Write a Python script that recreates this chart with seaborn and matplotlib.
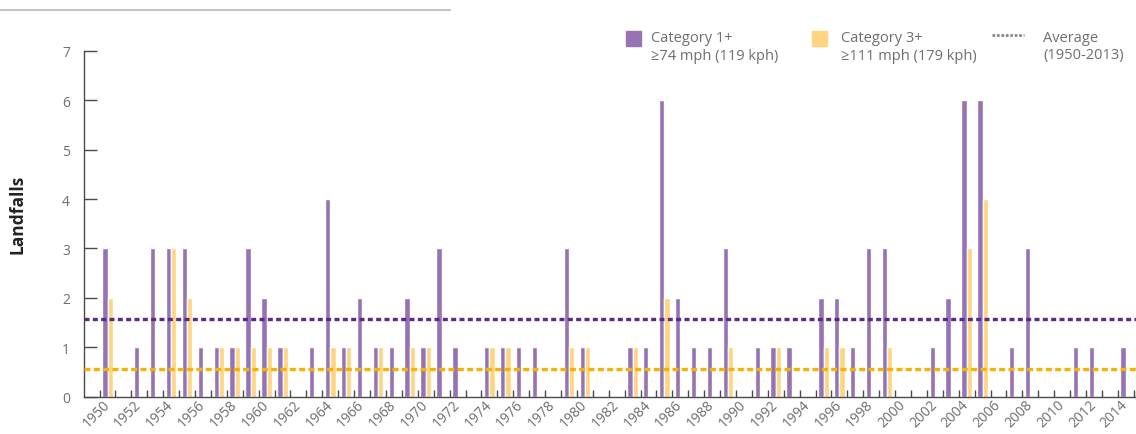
import numpy as np
import pandas as pd
import matplotlib
matplotlib.use("Agg")
import matplotlib.pyplot as plt
from matplotlib.patches import Rectangle
from matplotlib.lines import Line2D
import seaborn as sns

# ---------------- data ----------------
years = list(range(1950, 2015))
cat1_plus = [3, 0, 1, 3, 3, 3, 1, 1, 1, 3,   # 1950-1959
             2, 1, 0, 1, 4, 1, 2, 1, 1, 2,   # 1960-1969
             1, 3, 1, 0, 1, 1, 1, 1, 0, 3,   # 1970-1979
             1, 0, 0, 1, 1, 6, 2, 1, 1, 3,   # 1980-1989
             0, 1, 1, 1, 0, 2, 2, 1, 3, 3,   # 1990-1999
             0, 0, 1, 2, 6, 6, 0, 1, 3, 0,   # 2000-2009
             0, 1, 1, 0, 1]                  # 2010-2014
cat3_plus = [2, 0, 0, 0, 3, 2, 0, 1, 1, 1,
             1, 1, 0, 0, 1, 1, 0, 1, 0, 1,
             1, 0, 0, 0, 1, 1, 0, 0, 0, 1,
             1, 0, 0, 1, 0, 2, 0, 0, 0, 1,
             0, 0, 1, 0, 0, 1, 1, 0, 0, 1,
             0, 0, 0, 0, 3, 4, 0, 0, 0, 0,
             0, 0, 0, 0, 0]
avg_cat1 = 1.57
avg_cat3 = 0.56
series_names = ["Category 1+", "Category 3+"]
tick_years = years[::2]

# ---------------- style ----------------
sns.set_style("white")
plt.rcParams["font.family"] = ["Open Sans", "DejaVu Sans"]

PURPLE = "#9773b3"
YELLOW = "#ffd480"
PURPLE_AVG = "#5b2a86"
YELLOW_AVG = "#f7b100"
GRAY_TXT = "#6e6e6e"
SPINE = "#4a4a4a"

df = pd.DataFrame({
    "year": [str(y) for y in years] * 2,
    "value": cat1_plus + cat3_plus,
    "series": [series_names[0]] * len(years) + [series_names[1]] * len(years),
})

W, H = 1136, 435
fig = plt.figure(figsize=(W / 100, H / 100), dpi=100)
ax = fig.add_axes([84 / W, 1 - 397.5 / H, 1 - 84 / W, (397.5 - 52) / H])

sns.barplot(data=df, x="year", y="value", hue="series",
            order=[str(y) for y in years], hue_order=series_names,
            palette=[PURPLE, YELLOW], width=0.67, gap=0, errorbar=None,
            legend=False, saturation=1, ax=ax)

ax.axhline(avg_cat1, color=PURPLE_AVG, lw=2.4, linestyle=(0, (1.5, 1.0)), zorder=5)
ax.axhline(avg_cat3, color=YELLOW_AVG, lw=2.4, linestyle=(0, (1.8, 1.0)), zorder=5)

ax.set_xlim(-1.477, 64.64)
ax.set_ylim(0, 7)
ax.set_yticks(range(0, 8))
ax.set_xticks([years.index(y) for y in tick_years])
ax.set_xticklabels([str(y) for y in tick_years], rotation=45, ha="right",
                   va="center", rotation_mode="anchor")
ax.set_xticks(np.arange(len(years) + 1) - 0.5, minor=True)
ax.tick_params(axis="x", which="major", length=0, pad=4, labelsize=10,
               labelcolor=GRAY_TXT)
ax.tick_params(axis="x", which="minor", direction="in", length=5, width=1,
               color=SPINE, bottom=True)
ax.tick_params(axis="y", which="major", direction="in", length=9, width=1,
               color=SPINE, pad=10, labelsize=10, labelcolor=GRAY_TXT, left=True)
ax.set_xlabel("")
ax.set_ylabel("")
for s in ["top", "right"]:
    ax.spines[s].set_visible(False)
for s in ["left", "bottom"]:
    ax.spines[s].set_color(SPINE)
    ax.spines[s].set_linewidth(1)

# y label
fig.text(18 / W, 1 - 214 / H, "Landfalls", rotation=90, ha="center", va="center",
         fontsize=12.5, fontweight="bold", color="#222222")

# top gray rule
fig.add_artist(Line2D([0, 450 / W], [1 - 10.5 / H, 1 - 10.5 / H], color="#c4c4c4",
                      lw=1.5, transform=fig.transFigure))

# legend (manual)
def fx(px):
    return px / W

def fy(py):
    return 1 - py / H

fig.add_artist(Rectangle((fx(626), fy(47)), 15 / W, 15 / H, color=PURPLE,
                         transform=fig.transFigure))
fig.add_artist(Rectangle((fx(812), fy(47)), 15 / W, 15 / H, color=YELLOW,
                         transform=fig.transFigure))
fig.add_artist(Line2D([fx(992), fx(1024)], [fy(36), fy(36)], color="#8a8a8a", lw=2,
                      linestyle=(0, (1, 0.6)), transform=fig.transFigure))
leg_txt = [(651, "Category 1+", "\u226574 mph (119 kph)"),
           (841, "Category 3+", "\u2265111 mph (179 kph)"),
           (1043, "Average", "(1950-2013)")]
for x, l1, l2 in leg_txt:
    fig.text(fx(x), fy(38), l1, ha="left", va="center", fontsize=10.5, color=GRAY_TXT)
    fig.text(fx(x), fy(56), l2, ha="left", va="center", fontsize=10.5, color=GRAY_TXT)

fig.savefig("out.png", dpi=100)
